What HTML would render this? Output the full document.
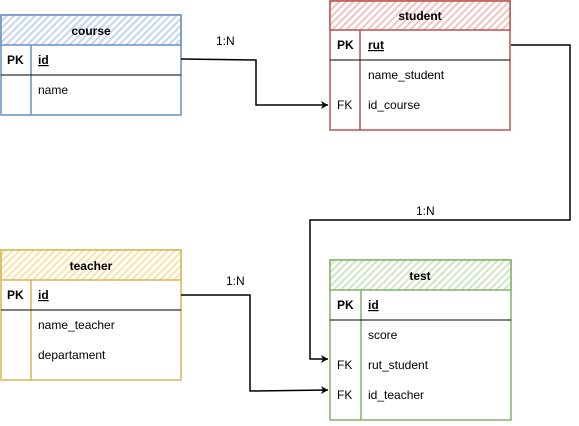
<!DOCTYPE html>
<html><head><style>body{margin:0;background:#fff}</style></head><body>
<svg width="579" height="421" xmlns="http://www.w3.org/2000/svg" font-family="Liberation Sans, sans-serif" font-size="12">
<defs>
<pattern id="hb" width="5" height="5" patternUnits="userSpaceOnUse" patternTransform="rotate(45)"><rect width="5" height="5" fill="#fff"/><rect width="2" height="5" fill="#c6d6ef"/></pattern>
<pattern id="hr" width="5" height="5" patternUnits="userSpaceOnUse" patternTransform="rotate(45)"><rect width="5" height="5" fill="#fff"/><rect width="2" height="5" fill="#f1c3c1"/></pattern>
<pattern id="hy" width="5" height="5" patternUnits="userSpaceOnUse" patternTransform="rotate(45)"><rect width="5" height="5" fill="#fff"/><rect width="2" height="5" fill="#f9e4a8"/></pattern>
<pattern id="hg" width="5" height="5" patternUnits="userSpaceOnUse" patternTransform="rotate(45)"><rect width="5" height="5" fill="#fff"/><rect width="2" height="5" fill="#cfe6c2"/></pattern>
<marker id="a" markerWidth="8" markerHeight="8" refX="7" refY="4" orient="auto" markerUnits="userSpaceOnUse"><path d="M0,0 L7,4 L0,8 L2,4 Z" fill="#000"/></marker>
</defs>
<g fill="none" stroke-width="1.5">
<!-- course -->
<rect x="1" y="15" width="180" height="100" stroke="#6c8ebf" fill="#fff"/>
<rect x="1" y="15" width="180" height="30" stroke="#6c8ebf" fill="url(#hb)"/>
<line x1="31" y1="45" x2="31" y2="115" stroke="#6c8ebf"/>
<line x1="1" y1="75" x2="181" y2="75" stroke="#000" stroke-width="1"/>
<!-- student -->
<rect x="330" y="1" width="180" height="129" stroke="#b85450" fill="#fff"/>
<rect x="330" y="1" width="180" height="29" stroke="#b85450" fill="url(#hr)"/>
<line x1="360" y1="30" x2="360" y2="130" stroke="#b85450"/>
<line x1="330" y1="60" x2="510" y2="60" stroke="#000" stroke-width="1"/>
<!-- teacher -->
<rect x="1" y="250" width="180" height="130" stroke="#d6b656" fill="#fff"/>
<rect x="1" y="250" width="180" height="30" stroke="#d6b656" fill="url(#hy)"/>
<line x1="31" y1="280" x2="31" y2="380" stroke="#d6b656"/>
<line x1="1" y1="310" x2="181" y2="310" stroke="#000" stroke-width="1"/>
<!-- test -->
<rect x="330" y="260" width="181" height="160" stroke="#82b366" fill="#fff"/>
<rect x="330" y="260" width="181" height="30" stroke="#82b366" fill="url(#hg)"/>
<line x1="361" y1="290" x2="361" y2="420" stroke="#82b366"/>
<line x1="330" y1="320" x2="511" y2="320" stroke="#000" stroke-width="1"/>
<!-- connectors -->
<polyline points="181,59 256,60 256,105 328,105" stroke="#000" marker-end="url(#a)"/>
<polyline points="511,45 570,45 570,220 310,220 310,359 328,359" stroke="#000" marker-end="url(#a)"/>
<polyline points="181,295 250,295 250,391 328,390" stroke="#000" marker-end="url(#a)"/>
</g>
<g fill="#000" text-anchor="middle" font-weight="bold">
<text x="91" y="35">course</text>
<text x="420" y="20">student</text>
<text x="91" y="270">teacher</text>
<text x="420" y="280">test</text>
</g>
<g fill="#000">
<text x="7" y="64" font-weight="bold">PK</text>
<text x="38" y="64" font-weight="bold" text-decoration="underline">id</text>
<text x="38" y="94">name</text>
<text x="337" y="49" font-weight="bold">PK</text>
<text x="368" y="49" font-weight="bold" text-decoration="underline">rut</text>
<text x="368" y="79">name_student</text>
<text x="337" y="109">FK</text>
<text x="368" y="109">id_course</text>
<text x="7" y="299" font-weight="bold">PK</text>
<text x="38" y="299" font-weight="bold" text-decoration="underline">id</text>
<text x="38" y="329">name_teacher</text>
<text x="38" y="359">departament</text>
<text x="337" y="309" font-weight="bold">PK</text>
<text x="368" y="309" font-weight="bold" text-decoration="underline">id</text>
<text x="368" y="339">score</text>
<text x="337" y="369">FK</text>
<text x="368" y="369">rut_student</text>
<text x="337" y="399">FK</text>
<text x="368" y="399">id_teacher</text>
<text x="216" y="45">1:N</text>
<text x="416" y="215">1:N</text>
<text x="226" y="285">1:N</text>
</g>
</svg>
</body></html>
